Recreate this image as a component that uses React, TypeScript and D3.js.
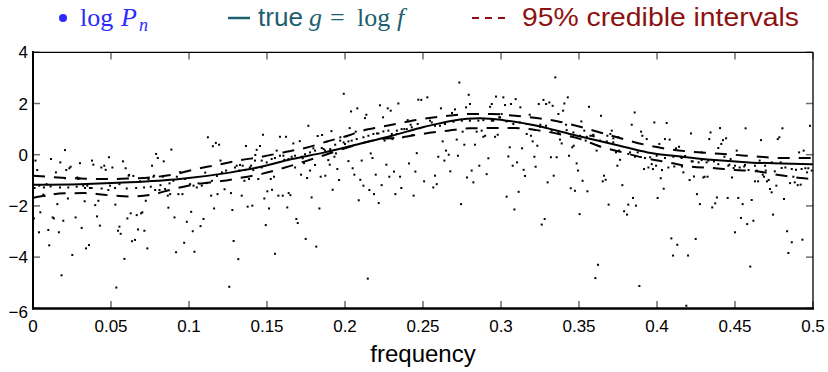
import React from "react";
import * as d3 from "d3";

// log periodogram ordinates [frequency, log P_n]
const logPnPoints: [number, number][] = [
  [0.0016,-0.23],[0.0027,-0.60],[0.0010,-1.30],[0.0006,-2.49],[0.0038,-3.03],[0.0047,-2.25],[0.0066,-1.56],[0.0074,-1.61],[0.0087,-1.15],[0.0115,-0.17],
  [0.0104,-3.54],[0.0098,-2.94],[0.0126,-2.45],[0.0134,-2.49],[0.0147,-0.69],[0.0156,-1.93],[0.0166,-3.03],[0.0175,-0.30],[0.0183,-4.71],[0.0194,-2.58],
  [0.0205,0.18],[0.0213,-0.60],[0.0224,-1.71],[0.0233,-0.53],[0.0241,-0.47],[0.0252,-3.92],[0.0273,-2.45],[0.0301,-0.33],[0.0312,-2.86],[0.0284,-0.89],
  [0.0290,-0.95],[0.0331,-1.82],[0.0340,-3.66],[0.0359,-3.53],[0.0378,-0.23],[0.0387,-0.39],[0.0399,-1.97],[0.0410,-2.41],[0.0419,-1.80],[0.0429,-2.77],
  [0.0438,-0.50],[0.0457,-0.43],[0.0466,-0.59],[0.0487,-0.10],[0.0509,-0.50],[0.0528,-1.95],[0.0534,-5.19],[0.0545,-2.97],[0.0554,-2.81],[0.0562,-3.09],
  [0.0577,-0.26],[0.0586,-4.07],[0.0594,-0.53],[0.0605,-2.49],[0.0613,-0.82],[0.0626,-2.29],[0.0635,-3.38],[0.0643,-0.83],[0.0654,-3.33],[0.0665,-2.36],
  [0.0673,-2.92],[0.0693,-2.29],[0.0701,-2.25],[0.0714,-2.97],[0.0723,-1.80],[0.0733,-3.66],[0.0763,-0.43],[0.0772,-0.86],[0.0789,0.03],[0.0800,-0.13],
  [0.0817,-1.19],[0.0838,-0.26],[0.0868,-2.07],[0.0887,0.20],[0.0907,-2.45],[0.0917,-3.81],[0.0932,-1.54],[0.0958,-1.54],[0.0969,-3.44],[0.0986,-2.62],
  [0.1014,-2.23],[0.1024,-2.99],[0.1035,-3.79],[0.1074,-2.79],[0.1093,-2.51],[0.1121,0.68],[0.1142,-1.60],[0.1153,0.33],[0.1161,-2.10],[0.1172,0.46],
  [0.1183,-1.54],[0.1193,0.39],[0.1202,-0.23],[0.1228,-1.35],[0.1238,-0.62],[0.1258,-5.16],
  [0.004,-1.21],[0.007,-1.28],[0.0113,-1.24],[0.0173,-1.28],[0.0226,-1.28],[0.028,-1.25],[0.0333,-1.30],[0.0376,-1.30],[0.044,-1.32],[0.0483,-1.38],
  [0.0526,-1.30],[0.0601,-1.32],[0.0661,-1.30],[0.0712,-1.28],[0.0755,-1.25],[0.0783,-1.38],[0.0811,-1.38],[0.0847,-1.34],[0.0875,-1.12],[0.090,-1.02],
  [0.0922,-0.86],[0.0975,-0.95],[0.1007,-1.15],[0.1029,-1.21],[0.105,-1.28],[0.1082,-1.21],[0.1114,-1.11],[0.1147,-1.02],[0.1211,-0.69],
  [0.0205,-0.92],[0.0297,-0.92],[0.0322,-1.21],[0.0348,-1.21],[0.0365,-1.30],[0.0494,-1.21],[0.0554,-1.15],[0.0616,-0.79],[0.0686,-1.04],[0.074,-0.95],
  [0.0776,-0.82],[0.0832,-0.86],[0.0864,-1.60],[0.0879,-1.54],[0.0943,-0.68],[0.1061,-1.12],[0.1104,-0.70],[0.1179,-0.83],
  [0.1269,-1.50],[0.1278,-2.16],[0.1286,-3.37],[0.1316,-4.08],[0.1295,-0.50],[0.1306,-0.43],[0.1323,-0.62],[0.1338,-1.60],[0.1344,-0.43],[0.1355,-1.02],
  [0.1365,0.34],[0.1376,-2.03],[0.1385,-0.95],[0.1398,-0.43],[0.1406,-1.99],[0.1412,-0.60],[0.1425,-0.01],[0.1434,0.19],[0.1444,-0.95],[0.1455,0.34],
  [0.1466,-0.50],[0.1474,0.78],[0.1483,-1.71],[0.1492,-2.75],[0.1502,-1.43],[0.1513,-2.10],[0.1524,-0.95],[0.1532,-1.37],[0.1545,-0.86],[0.1551,-3.87],
  [0.1562,0.16],[0.1573,-1.60],[0.1583,0.70],[0.1601,-1.60],[0.1611,-0.20],[0.1622,0.70],[0.1630,-2.06],[0.1639,-1.50],[0.1650,-1.58],[0.1658,-0.08],
  [0.1669,0.44],[0.1680,-0.50],[0.1688,-2.51],[0.1697,-2.67],[0.1710,0.53],[0.1718,-0.78],[0.1729,-0.14],[0.1737,-0.33],[0.1748,-3.29],[0.1757,-0.91],
  [0.1765,1.13],[0.1776,-0.62],[0.1786,-1.67],[0.1797,0.25],[0.1808,-0.40],[0.1816,-3.59],[0.1825,0.73],[0.1836,-2.10],[0.1844,-0.86],[0.1853,0.77],
  [0.1863,0.22],[0.1874,-0.82],[0.1882,0.51],[0.1893,-0.21],[0.1902,-0.39],[0.1913,0.92],[0.1921,-1.37],[0.1932,-0.08],[0.1942,0.05],[0.1951,-0.56],
  [0.1962,-0.99],[0.1970,0.68],[0.1992,2.38],[0.2000,0.42],[0.2011,0.72],[0.2022,-0.25],[0.2030,1.04],[0.2039,1.69],[0.2049,-0.53],[0.2060,-0.78],
  [0.2069,0.90],[0.2079,1.81],[0.2088,-1.78],[0.2098,-0.98],[0.2107,-0.23],[0.2118,-1.21],[0.2128,1.43],[0.2137,1.56],[0.2146,-4.84],[0.2156,-1.38],
  [0.2165,0.05],[0.2176,-0.13],[0.2186,-1.54],[0.2197,-0.78],[0.2205,0.83],[0.2216,-1.89],[0.2224,1.93],[0.2235,-1.19],[0.2244,1.46],[0.2254,0.55],
  [0.2265,-0.39],[0.2274,1.81],[0.2284,-0.86],[0.2293,1.72],[0.2304,0.61],[0.2314,-0.66],[0.2323,-1.54],[0.2333,0.94],[0.2342,2.00],[0.2353,-0.86],
  [0.2361,-1.30],[0.2372,0.68],[0.2380,1.00],[0.2402,1.35],[0.2410,-0.34],[0.2421,1.17],[0.2432,0.77],[0.2440,-1.60],[0.2451,-0.66],[0.2460,0.06],
  [0.2470,2.15],[0.2481,1.04],[0.2489,2.14],[0.2507,-1.04],
  [0.1327,-0.40],[0.1359,-0.60],[0.139,-0.50],[0.1423,-0.23],[0.1466,-0.23],[0.1498,-0.30],[0.153,-0.17],[0.1551,-0.13],[0.1583,-0.04],[0.1605,-0.04],
  [0.1637,-0.17],[0.168,-0.04],[0.1722,-0.08],[0.1744,0.02],[0.1776,0.09],[0.1808,0.16],[0.1851,0.26],[0.1872,0.16],[0.1905,0.22],[0.1937,0.39],
  [0.1969,0.55],[0.1991,0.48],[0.2022,0.52],[0.2043,0.55],[0.2075,0.61],[0.2118,0.68],[0.215,0.74],[0.2182,0.81],[0.2214,0.83],[0.2246,0.91],
  [0.2278,0.94],[0.23,0.81],[0.2332,0.81],[0.2363,1.00],[0.2396,1.00],[0.2428,1.07],[0.2466,1.20],
  [0.2528,2.24],[0.2556,1.26],[0.2566,-1.28],[0.2577,-0.82],[0.2588,-1.15],[0.2598,-0.08],[0.2615,1.81],[0.2626,0.52],[0.2637,-0.23],[0.2647,0.16],
  [0.2665,0.00],[0.2675,-0.65],[0.2686,1.63],[0.2705,1.77],[0.2716,0.59],[0.2724,-0.04],[0.2733,2.82],[0.2744,-1.93],[0.2754,0.90],[0.2765,0.39],
  [0.2776,1.85],[0.2782,-0.89],[0.2793,2.34],[0.2801,1.98],[0.2812,-0.62],[0.2823,-1.08],[0.2833,0.39],[0.2844,0.90],[0.2861,-0.43],[0.2876,0.94],
  [0.2887,0.70],[0.2898,0.74],[0.2908,-0.76],[0.2919,-0.14],[0.2930,1.87],[0.2941,1.98],[0.2951,1.33],[0.2962,0.70],[0.2968,2.27],[0.2979,0.78],
  [0.2994,1.46],[0.3004,1.59],[0.3015,2.24],[0.3026,1.94],[0.3036,-1.64],[0.3047,-0.07],[0.3056,0.29],[0.3064,1.98],[0.3075,-0.43],[0.3086,-2.14],
  [0.3094,2.17],[0.3103,-0.30],[0.3113,-1.45],[0.3124,1.85],[0.3135,0.25],[0.3145,-0.59],[0.3154,-0.83],[0.3165,0.81],[0.3184,1.56],[0.3192,0.74],
  [0.3203,0.52],[0.3214,-0.08],[0.3222,-0.47],[0.3233,0.35],[0.3242,1.98],[0.3252,1.17],[0.3261,-2.73],[0.3272,2.14],[0.3280,-2.51],[0.3289,1.98],
  [0.3299,-1.08],[0.3310,2.04],[0.3320,-0.10],[0.3331,1.91],[0.3338,-0.82],[0.3348,3.02],[0.3357,-0.10],[0.3368,1.59],[0.3378,0.59],[0.3389,0.44],
  [0.3398,1.72],[0.3406,2.00],[0.3417,1.17],[0.3428,2.24],[0.3436,-0.04],[0.3447,-1.31],[0.3457,0.29],[0.3466,0.35],[0.3474,-1.41],[0.3485,-0.34],
  [0.3494,-0.62],[0.3504,-2.32],[0.3515,1.30],[0.3523,-1.02],[0.3534,0.94],[0.3543,0.55],[0.3554,-1.43],[0.3564,1.87],[0.3573,0.74],[0.3584,0.74],
  [0.3594,0.72],[0.3605,-4.82],[0.3613,0.16],[0.3622,-4.30],[0.3641,1.52],[0.3652,-1.04],[0.3660,-0.82],[0.3671,-0.98],[0.3682,0.74],[0.3690,-1.95],
  [0.3701,0.81],[0.3710,0.94],[0.3720,0.64],[0.3737,0.09],[0.3746,-0.43],[0.3757,0.16],
  [0.2545,1.33],[0.2577,1.13],[0.2609,1.13],[0.2641,1.20],[0.2695,1.29],[0.2749,1.33],[0.2801,1.33],[0.2855,1.33],[0.2887,1.35],[0.2941,1.33],
  [0.2989,1.46],[0.3036,1.30],[0.3079,1.20],[0.3122,1.26],[0.3165,1.20],[0.3208,1.16],[0.325,1.09],[0.3289,1.13],[0.3325,0.94],[0.3368,0.87],
  [0.3421,0.96],[0.3464,0.87],[0.3507,0.74],[0.355,0.70],[0.3592,0.78],[0.3635,0.55],[0.3678,0.52],[0.372,0.48],[0.3752,0.68],
  [0.3763,-0.20],[0.3778,-1.19],[0.3789,-2.21],[0.3808,-2.34],[0.3816,-1.95],[0.3827,0.09],[0.3838,1.17],[0.3846,-1.69],[0.3857,1.65],[0.3865,-1.99],
  [0.3876,0.09],[0.3887,-5.13],[0.3898,0.90],[0.3906,0.74],[0.3917,-0.56],[0.3934,0.61],[0.3945,-0.50],[0.3956,-0.10],[0.3966,-0.37],[0.3974,-0.56],
  [0.3983,1.26],[0.3994,-0.43],[0.4004,-1.69],[0.4015,0.42],[0.4024,-0.92],[0.4032,-0.60],[0.4043,-1.33],[0.4051,0.61],[0.4062,1.24],[0.4073,-0.50],
  [0.4081,0.59],[0.4092,-3.27],[0.4103,-3.94],[0.4111,-0.46],[0.4122,0.25],[0.4130,-3.52],[0.4141,0.31],[0.4152,-0.08],[0.4160,-0.46],[0.4169,-0.69],
  [0.4180,-0.05],[0.4188,-5.90],[0.4199,-3.94],[0.4209,-0.99],[0.4218,0.83],[0.4229,-0.26],[0.4237,-0.85],[0.4248,-3.29],[0.4256,-1.54],[0.4267,-0.30],
  [0.4275,-1.93],[0.4286,0.09],[0.4297,-0.89],[0.4305,-0.86],[0.4318,-0.30],[0.4324,-0.86],[0.4335,0.61],[0.4343,0.87],[0.4354,-2.06],[0.4365,-0.26],
  [0.4373,-1.90],[0.4384,-1.67],[0.4393,0.26],[0.4404,1.04],[0.4412,0.42],[0.4423,0.57],[0.4432,-0.08],[0.4443,0.64],[0.4453,-1.69],[0.4464,-0.39],
  [0.4472,-0.17],[0.4481,-0.89],[0.4491,-0.52],[0.4500,-3.03],[0.4511,0.16],[0.4521,-1.69],[0.4530,-0.50],[0.4538,-2.47],[0.4549,-1.93],[0.4559,-0.46],
  [0.4568,1.03],[0.4578,-2.71],[0.4587,-0.60],[0.4598,-4.37],[0.4607,-1.77],[0.4618,-2.58],[0.4628,-1.04],[0.4639,-0.62],[0.4648,-1.04],[0.4658,-0.23],
  [0.4667,0.57],[0.4678,-0.78],[0.4686,-0.86],[0.4697,-0.62],[0.4705,-1.04],[0.4716,-0.99],[0.4724,-1.34],[0.4735,-1.47],[0.4744,-2.34],[0.4755,-0.65],
  [0.4765,-1.21],[0.4774,0.61],[0.4784,0.68],[0.4793,-0.30],[0.4804,1.03],[0.4814,-1.73],[0.4823,-0.50],[0.4834,-2.99],[0.4842,-3.84],[0.4853,-1.11],
  [0.4864,-3.42],[0.4874,-0.86],[0.4883,-1.08],[0.4891,-0.59],[0.4902,-1.19],[0.4911,0.09],[0.4921,-1.17],[0.4932,-3.32],[0.4940,0.16],[0.4951,-0.53],
  [0.4962,-0.69],[0.4970,-0.53],[0.4981,1.13],
  [0.3816,0.03],[0.3859,-0.08],[0.3923,-0.13],[0.3998,-0.04],[0.4051,-0.13],[0.4105,-0.08],[0.4158,-0.13],[0.4222,-0.26],[0.4286,-0.21],[0.4329,-0.23],
  [0.4393,-0.37],[0.4457,-0.43],[0.45,-0.43],[0.4564,-0.40],[0.4628,-0.43],[0.4693,-0.43],[0.4735,-0.30],[0.4799,-0.52],[0.4864,-0.56],[0.4927,-0.56],[0.4992,-0.62],
];

// true log spectral density g = log f
const trueG: [number, number][] = [
  [0,-1.17],[0.03,-1.15],[0.062,-1.08],[0.094,-0.95],[0.126,-0.70],[0.144,-0.50],[0.166,-0.17],[0.187,0.09],[0.209,0.42],[0.23,0.74],
  [0.251,1.09],[0.269,1.33],[0.2865,1.42],[0.3015,1.35],[0.323,1.13],[0.344,0.81],[0.376,0.35],[0.394,0.09],[0.416,-0.08],[0.437,-0.21],
  [0.459,-0.30],[0.48,-0.34],[0.5,-0.37],
];

// upper 95% credible bound
const upperCI: [number, number][] = [
  [0,-0.82],[0.03,-0.93],[0.05,-0.95],[0.062,-0.93],[0.075,-0.89],[0.092,-0.75],[0.103,-0.58],[0.118,-0.40],[0.1316,-0.23],[0.1466,-0.08],
  [0.1605,0.09],[0.1744,0.26],[0.1882,0.51],[0.2032,0.77],[0.2096,0.91],[0.2235,1.09],[0.2374,1.26],[0.2492,1.39],[0.2662,1.52],[0.2801,1.59],
  [0.2940,1.59],[0.3090,1.52],[0.3229,1.43],[0.3368,1.30],[0.3507,1.09],[0.3646,0.85],[0.3784,0.61],[0.3923,0.39],[0.4073,0.22],[0.4212,0.12],
  [0.4351,0.06],[0.4490,0.00],[0.4639,-0.07],[0.4778,-0.13],[0.4928,-0.13],[0.5,-0.13],
];

// lower 95% credible bound
const lowerCI: [number, number][] = [
  [0,-1.69],[0.02,-1.51],[0.033,-1.50],[0.048,-1.58],[0.062,-1.63],[0.076,-1.56],[0.09,-1.34],[0.105,-1.15],[0.121,-1.03],[0.1316,-0.92],
  [0.1466,-0.75],[0.1605,-0.52],[0.1744,-0.26],[0.1872,-0.01],[0.2,0.25],[0.22,0.58],[0.2363,0.68],[0.2492,0.81],[0.266,0.94],[0.28,1.03],
  [0.294,1.04],[0.309,1.04],[0.323,0.96],[0.337,0.81],[0.351,0.61],[0.364,0.31],[0.378,0.09],[0.393,-0.14],[0.407,-0.30],[0.421,-0.46],
  [0.436,-0.52],[0.450,-0.60],[0.464,-0.65],[0.478,-0.79],[0.492,-0.91],[0.5,-0.95],
];

const xTicks = [0, 0.05, 0.1, 0.15, 0.2, 0.25, 0.3, 0.35, 0.4, 0.45, 0.5];
const yTicks = [-6, -4, -2, 0, 2, 4];

export default function App() {
  const W = 828, H = 372;
  const x = d3.scaleLinear().domain([0, 0.5]).range([33, 813]);
  const y = d3.scaleLinear().domain([-6, 4]).range([308.3, 52.3]);
  const line = d3
    .line<[number, number]>()
    .x((d) => x(d[0]))
    .y((d) => y(d[1]))
    .curve(d3.curveMonotoneX);
  const sans = "'Liberation Sans', Arial, Helvetica, sans-serif";
  const serif = "'Liberation Serif', 'Times New Roman', serif";
  const fmt = (v: number) => (v < 0 ? "\u2212" + Math.abs(v) : String(v));
  const tickColor = "#6e6e6e";
  const blue = "#2b2bff";
  const teal = "#1d5f6e";
  const red = "#8e1111";
  return (
    <svg
      width={W}
      height={H}
      style={{ position: "absolute", left: 0, top: 0, background: "#fff" }}
    >
      {/* legend */}
      <circle cx={63} cy={18} r={4} fill={blue} />
      <text y={26} fill={blue} fontFamily={serif} fontSize={26}>
        <tspan x={80}>log</tspan>
        <tspan x={121} fontStyle="italic">P</tspan>
        <tspan x={139} dy={5} fontStyle="italic" fontSize={18}>n</tspan>
      </text>
      <line x1={228} x2={250} y1={18} y2={18} stroke={teal} strokeWidth={2.5} />
      <text x={258} y={26} fill={teal} fontFamily={sans} fontSize={25} textLength={45} lengthAdjust="spacingAndGlyphs">true</text>
      <text y={26} fill={teal} fontFamily={serif} fontSize={26}>
        <tspan x={309} fontStyle="italic">g</tspan>
        <tspan x={330}>=</tspan>
        <tspan x={357}>log</tspan>
        <tspan x={397} fontStyle="italic">f</tspan>
      </text>
      <line x1={472} x2={511} y1={18} y2={18} stroke={red} strokeWidth={2} strokeDasharray="7,6" />
      <text x={522} y={26} fill={red} fontFamily={sans} fontSize={25} textLength={277} lengthAdjust="spacingAndGlyphs">95% credible intervals</text>

      {/* points */}
      <g fill="#000">
        {logPnPoints.map((d, i) => (
          <rect key={i} x={x(d[0]) - 1} y={y(d[1]) - 1} width={2} height={2} />
        ))}
      </g>

      {/* curves */}
      <path d={line(upperCI) || ""} fill="none" stroke="#000" strokeWidth={2} strokeDasharray="12,9" />
      <path d={line(lowerCI) || ""} fill="none" stroke="#000" strokeWidth={2} strokeDasharray="12,9" />
      <path d={line(trueG) || ""} fill="none" stroke="#000" strokeWidth={2} />

      {/* ticks */}
      <g stroke={tickColor} strokeWidth={1.5}>
        {xTicks.map((t) => (
          <g key={"xt" + t}>
            <line x1={x(t)} x2={x(t)} y1={308.3} y2={301} />
            <line x1={x(t)} x2={x(t)} y1={52.3} y2={59.5} />
          </g>
        ))}
        {yTicks.map((t) => (
          <g key={"yt" + t}>
            <line x1={33} x2={40} y1={y(t)} y2={y(t)} />
            <line x1={813} x2={806} y1={y(t)} y2={y(t)} />
          </g>
        ))}
      </g>

      {/* frame */}
      <line x1={33} x2={813} y1={52.3} y2={52.3} stroke="#000" strokeWidth={1.3} />
      <line x1={813} x2={813} y1={52.3} y2={308.3} stroke="#000" strokeWidth={1.3} />
      <line x1={33} x2={33} y1={51} y2={309.5} stroke="#000" strokeWidth={2} />
      <line x1={32} x2={814} y1={308.5} y2={308.5} stroke="#000" strokeWidth={2.5} />

      {/* tick labels */}
      <g fontFamily={sans} fontSize={17} fill="#000">
        {xTicks.map((t) => (
          <text key={"xl" + t} x={x(t)} y={332} textAnchor="middle">{String(t)}</text>
        ))}
        {yTicks.map((t) => (
          <text key={"yl" + t} x={28} y={y(t) + (t === -6 ? 10 : 6)} textAnchor="end">{fmt(t)}</text>
        ))}
      </g>
      <text x={x(0.25)} y={362} textAnchor="middle" fontFamily={sans} fontSize={24} fill="#000">
        frequency
      </text>
    </svg>
  );
}
